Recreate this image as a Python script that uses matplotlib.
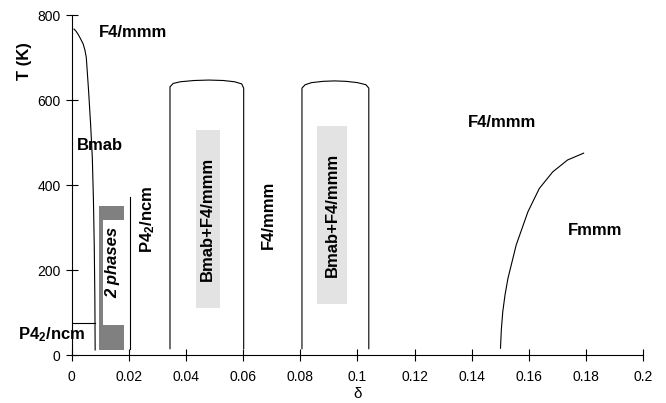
import matplotlib
matplotlib.use('Agg')
import matplotlib.pyplot as plt

plt.rcParams['font.family'] = ['Liberation Sans', 'DejaVu Sans']
plt.rcParams['mathtext.default'] = 'regular'

# Bmab / F4/mmm boundary
bmab_d = [0.0008, 0.0015, 0.0022, 0.0031, 0.0040, 0.0046, 0.0051, 0.0059, 0.0066, 0.0072, 0.0076, 0.0079, 0.0081, 0.0082]
bmab_t = [767, 762, 755, 744, 732, 718, 700, 622, 544, 466, 365, 250, 130, 12]

# P4_2/ncm low-T boundary
low_d = [0.0, 0.0082]
low_t = [75, 75]

# P4_2/ncm line
p42_d = [0.0204, 0.0204]
p42_t = [15, 372]

# two-phase domes (left line, arc, right line)
dome1_d = [0.0344, 0.0344, 0.0355, 0.038, 0.043, 0.048, 0.053, 0.057, 0.0595, 0.0602, 0.0602]
dome1_t = [15, 631, 639, 643, 646, 647, 646, 643, 638, 628, 15]
dome2_d = [0.0806, 0.0806, 0.0817, 0.084, 0.088, 0.092, 0.096, 0.100, 0.1030, 0.1040, 0.1040]
dome2_t = [15, 628, 636, 641, 644, 645, 644, 641, 636, 628, 15]

# Fmmm boundary
fmmm_d = [0.1501, 0.1504, 0.1509, 0.1517, 0.1527, 0.1556, 0.1597, 0.1637, 0.1684, 0.1736, 0.1792]
fmmm_t = [16, 60, 102, 142, 180, 259, 337, 392, 431, 459, 475]

# shaded boxes: (d0, d1, t0, t1)
dark_box = (0.0097, 0.0183, 12, 350)
white_box = (0.0109, 0.0190, 70, 318)
light_boxes = [(0.0435, 0.0518, 111, 529), (0.0860, 0.0962, 120, 540)]

xticks = [0, 0.02, 0.04, 0.06, 0.08, 0.1, 0.12, 0.14, 0.16, 0.18, 0.2]
xticklabels = ['0', '0.02', '0.04', '0.06', '0.08', '0.1', '0.12', '0.14', '0.16', '0.18', '0.2']
yticks = [0, 200, 400, 600, 800]

fig = plt.figure(figsize=(6.66, 4.03), dpi=100)
ax = fig.add_axes([0.1077, 0.119, 0.8578, 0.8437])

def box(b, color):
    ax.fill([b[0], b[1], b[1], b[0]], [b[2], b[2], b[3], b[3]], color=color, lw=0, zorder=1)

box(dark_box, '#808080')
box(white_box, 'white')
for b in light_boxes:
    box(b, '#e3e3e3')

lw = 0.8
ax.plot(bmab_d, bmab_t, color='black', lw=lw)
ax.plot(low_d, low_t, color='black', lw=lw)
ax.plot(p42_d, p42_t, color='black', lw=lw)
ax.plot(dome1_d, dome1_t, color='black', lw=lw)
ax.plot(dome2_d, dome2_t, color='black', lw=lw)
ax.plot(fmmm_d, fmmm_t, color='black', lw=lw)

fs = 12
ax.text(0.0214, 758, 'F4/mmm', fontsize=fs, fontweight='bold', ha='center', va='center')
ax.text(0.0098, 494, 'Bmab', fontsize=fs, fontweight='bold', ha='center', va='center')
ax.text(-0.0072, 47, 'P4$_2$/ncm', fontsize=fs, fontweight='bold', ha='center', va='center', clip_on=False)
ax.text(0.0145, 219, '2 phases', fontsize=fs, fontweight='bold', style='italic', rotation=90, ha='center', va='center')
ax.text(0.0267, 318, 'P4$_2$/ncm', fontsize=fs, fontweight='bold', rotation=90, ha='center', va='center')
ax.text(0.0476, 320, 'Bmab+F4/mmm', fontsize=fs, fontweight='bold', rotation=90, ha='center', va='center')
ax.text(0.0687, 329, 'F4/mmm', fontsize=fs, fontweight='bold', rotation=90, ha='center', va='center')
ax.text(0.0911, 329, 'Bmab+F4/mmm', fontsize=fs, fontweight='bold', rotation=90, ha='center', va='center')
ax.text(0.1505, 548, 'F4/mmm', fontsize=fs, fontweight='bold', ha='center', va='center')
ax.text(0.1833, 292, 'Fmmm', fontsize=fs, fontweight='bold', ha='center', va='center')

ax.set_xlim(0, 0.2)
ax.set_ylim(0, 800)
ax.set_xticks(xticks)
ax.set_xticklabels(xticklabels)
ax.set_yticks(yticks)
ax.spines['top'].set_visible(False)
ax.spines['right'].set_visible(False)
for s in ['left', 'bottom']:
    ax.spines[s].set_linewidth(0.8)
ax.tick_params(axis='both', direction='inout', length=8, width=0.8, labelsize=10)
ax.tick_params(axis='x', pad=7)
ax.tick_params(axis='y', pad=4)

ax.set_ylabel('T (K)', fontsize=12, fontweight='bold')
ax.yaxis.set_label_coords(-0.070, 0.865)
ax.set_xlabel('δ', fontsize=11)
ax.xaxis.set_label_coords(0.5, -0.095)

fig.savefig('out.png', dpi=100)
